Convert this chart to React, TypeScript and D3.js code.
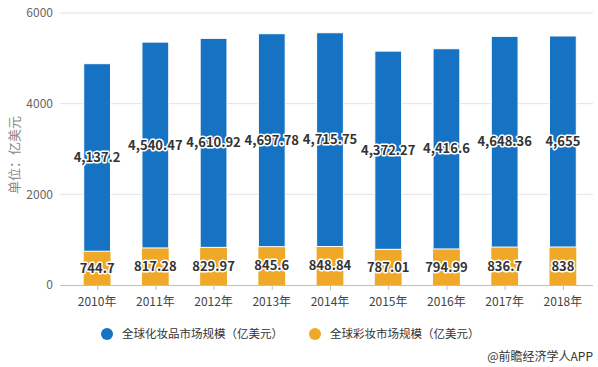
import { useEffect, useRef } from 'react';
import * as d3 from 'd3';

const years = ['2010年', '2011年', '2012年', '2013年', '2014年', '2015年', '2016年', '2017年', '2018年'];
const cosmetics = [4137.2, 4540.47, 4610.92, 4697.78, 4715.75, 4372.27, 4416.6, 4648.36, 4655];
const makeup = [744.7, 817.28, 829.97, 845.6, 848.84, 787.01, 794.99, 836.7, 838];
const yTicks = [0, 2000, 4000, 6000];
const seriesNames = ['全球化妆品市场规模（亿美元）', '全球彩妆市场规模（亿美元）'];

const BLUE = '#1673c4';
const ORANGE = '#efa828';
const FONT = '"Noto Sans CJK SC", "Noto Sans", sans-serif';

function App() {
  const svgRef = useRef<SVGSVGElement>(null);

  useEffect(() => {
    const svg = d3.select(svgRef.current);
    svg.selectAll('*').remove();

    const width = 598;
    const height = 367;
    svg.attr('width', width).attr('height', height);

    const x = d3.scaleBand().domain(years).range([68, 592]).paddingInner(0.54).paddingOuter(0.27);
    const y = d3.scaleLinear().domain([0, 6000]).range([285, 13]);

    // 격자선
    svg.append('g')
      .selectAll('line')
      .data(yTicks.slice(1))
      .enter()
      .append('line')
      .attr('x1', 60)
      .attr('x2', 593)
      .attr('y1', d => y(d))
      .attr('y2', d => y(d))
      .attr('stroke', '#e3e3e3')
      .attr('stroke-width', 1);

    svg.append('g')
      .selectAll('text')
      .data(yTicks)
      .enter()
      .append('text')
      .attr('x', 53)
      .attr('y', d => y(d))
      .attr('dy', '0.35em')
      .attr('text-anchor', 'end')
      .attr('font-family', FONT)
      .attr('font-size', 12)
      .attr('fill', '#666')
      .text(d => d);

    svg.append('text')
      .attr('transform', 'translate(19, 155) rotate(-90)')
      .attr('text-anchor', 'middle')
      .attr('font-family', FONT)
      .attr('font-size', 13)
      .attr('fill', '#888')
      .text('单位：亿美元');

    // 막대
    const rows = years.map((yr, i) => ({ yr, a: makeup[i], b: cosmetics[i] }));
    const bw = x.bandwidth();

    const g = svg.append('g');
    rows.forEach(r => {
      const x0 = x(r.yr)!;
      g.append('rect')
        .attr('x', x0).attr('width', bw)
        .attr('y', y(r.a)).attr('height', y(0) - y(r.a))
        .attr('fill', ORANGE);
      g.append('rect')
        .attr('x', x0).attr('width', bw)
        .attr('y', y(r.a + r.b)).attr('height', y(r.a) - y(r.a + r.b))
        .attr('fill', BLUE)
        .attr('stroke', 'white').attr('stroke-width', 1);
    });

    const fmt = d3.format(',');
    const labels = svg.append('g')
      .attr('font-family', FONT)
      .attr('font-size', 13)
      .attr('font-weight', 'bold')
      .attr('text-anchor', 'middle');
    rows.forEach(r => {
      const cx = x(r.yr)! + bw / 2;
      [
        { v: r.b, cy: y(r.a + r.b / 2) },
        { v: r.a, cy: y(r.a / 2) }
      ].forEach(l => {
        labels.append('text')
          .attr('x', cx).attr('y', l.cy).attr('dy', '0.35em')
          .attr('fill', 'none').attr('stroke', 'white').attr('stroke-width', 3)
          .attr('stroke-linejoin', 'round')
          .text(fmt(l.v));
        labels.append('text')
          .attr('x', cx).attr('y', l.cy).attr('dy', '0.35em')
          .attr('fill', '#333')
          .text(fmt(l.v));
      });
    });

    // x축
    svg.append('line')
      .attr('x1', 60).attr('x2', 593)
      .attr('y1', y(0) + 0.5).attr('y2', y(0) + 0.5)
      .attr('stroke', '#bfbfbf');
    svg.append('g')
      .selectAll('line')
      .data(years)
      .enter()
      .append('line')
      .attr('x1', d => x(d)! + bw / 2 + 0.5)
      .attr('x2', d => x(d)! + bw / 2 + 0.5)
      .attr('y1', y(0))
      .attr('y2', y(0) + 5)
      .attr('stroke', '#bfbfbf');
    svg.append('g')
      .selectAll('text')
      .data(years)
      .enter()
      .append('text')
      .attr('x', d => x(d)! + bw / 2)
      .attr('y', 302)
      .attr('dy', '0.35em')
      .attr('text-anchor', 'middle')
      .attr('font-family', FONT)
      .attr('font-size', 12)
      .attr('fill', '#444')
      .text(d => d);

    // 범례
    const legend = [
      { name: seriesNames[0], color: BLUE, x: 107 },
      { name: seriesNames[1], color: ORANGE, x: 315 }
    ];
    const lg = svg.append('g');
    legend.forEach(l => {
      lg.append('circle').attr('cx', l.x).attr('cy', 334).attr('r', 6).attr('fill', l.color);
      lg.append('text')
        .attr('x', l.x + 15).attr('y', 334).attr('dy', '0.35em')
        .attr('font-family', FONT).attr('font-size', 11.5).attr('fill', '#333')
        .text(l.name);
    });

    svg.append('text')
      .attr('x', 593).attr('y', 357).attr('dy', '0.35em')
      .attr('text-anchor', 'end')
      .attr('font-family', FONT).attr('font-size', 12).attr('fill', '#333')
      .text('@前瞻经济学人APP');
  }, []);

  return <svg ref={svgRef} style={{ position: 'absolute', left: 0, top: 0 }}></svg>;
}

export default App;
